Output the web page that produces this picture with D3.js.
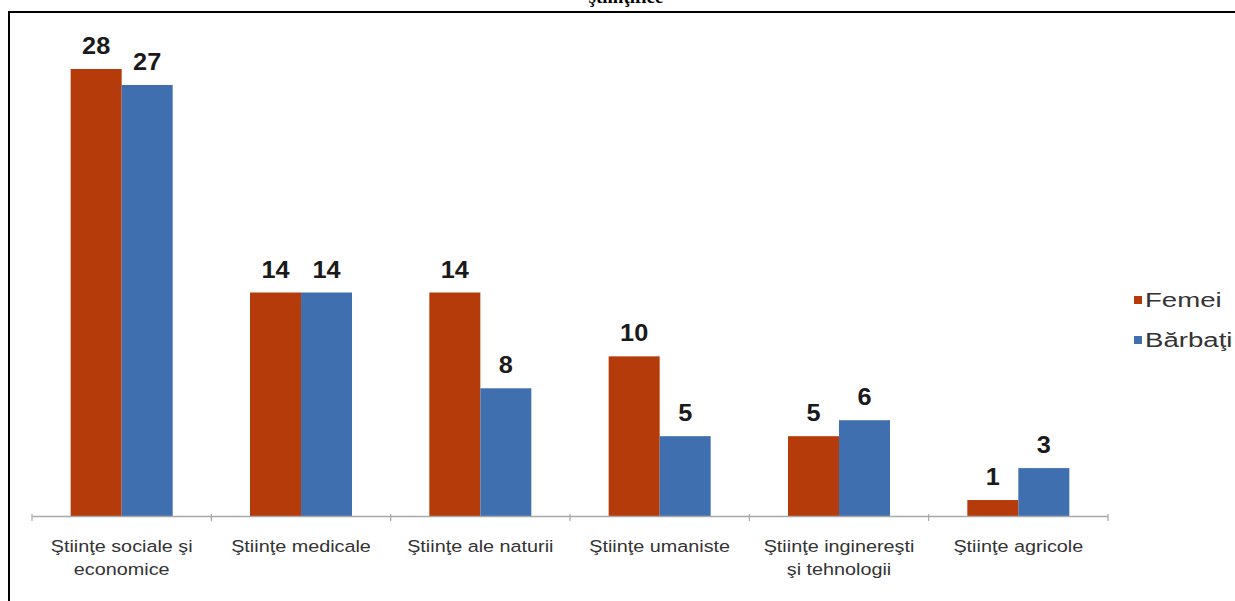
<!DOCTYPE html>
<html>
<head>
<meta charset="utf-8">
<script src="https://cdn.jsdelivr.net/npm/d3@7"></script>
<style>
  html, body { margin: 0; padding: 0; background: #fff; }
  svg { display: block; }
</style>
</head>
<body>
<script>
const categories = [
  ["Ştiinţe sociale şi", "economice"],
  ["Ştiinţe medicale"],
  ["Ştiinţe ale naturii"],
  ["Ştiinţe umaniste"],
  ["Ştiinţe inginereşti", "şi tehnologii"],
  ["Ştiinţe agricole"]
];
const seriesNames = ["Femei", "Bărbaţi"];
const femei = [28, 14, 14, 10, 5, 1];
const barbati = [27, 14, 8, 5, 6, 3];
const colors = ["#B53C0A", "#3F6FAF"];

const W = 1235, H = 601;
const svg = d3.select("body").append("svg").attr("width", W).attr("height", H);

// clipped title fragment above frame
svg.append("text").attr("x", 626).attr("y", 3)
  .attr("text-anchor", "middle")
  .attr("font-family", "Liberation Serif, Times New Roman, serif")
  .attr("font-weight", "bold").attr("font-size", 19)
  .text("ştiinţifice");

// frame
svg.append("line").attr("x1", 8).attr("x2", W).attr("y1", 12).attr("y2", 12)
  .attr("stroke", "#000").attr("stroke-width", 2);
svg.append("line").attr("x1", 9).attr("x2", 9).attr("y1", 12).attr("y2", H)
  .attr("stroke", "#000").attr("stroke-width", 2);

const idx = d3.range(categories.length);
const x = d3.scaleBand().domain(idx).range([32, 1108]).paddingInner(0).paddingOuter(0);
const y = d3.scaleLinear().domain([0, 28]).range([516, 69]);
const barW = 51;
const x1 = d3.scaleBand().domain([0, 1]).range([0, barW * 2]);

const data = [femei, barbati];

const g = svg.append("g");
data.forEach((vals, s) => {
  g.selectAll(".bar" + s).data(vals).enter().append("rect")
    .attr("x", (d, i) => x(i) + x.bandwidth() / 2 - barW + x1(s))
    .attr("y", d => y(d))
    .attr("width", barW)
    .attr("height", d => y(0) - y(d))
    .attr("fill", colors[s]);
  g.selectAll(".lab" + s).data(vals).enter().append("text")
    .attr("transform", (d, i) => `translate(${x(i) + x.bandwidth() / 2 - barW + x1(s) + barW / 2},${y(d) - 15}) scale(1.1,1)`)
    .attr("text-anchor", "middle")
    .attr("font-family", "Liberation Sans, Arial, sans-serif")
    .attr("font-weight", "bold").attr("font-size", 23)
    .attr("fill", "#1a1a1a")
    .text(d => d);
});

// axis
const axis = d3.axisBottom(x).tickSize(0).tickFormat("");
const ax = svg.append("g").attr("transform", "translate(0,516)").call(axis);
ax.select(".domain").attr("stroke", "#a8a8a8").attr("stroke-width", 1.5);
const bounds = idx.map(i => x(i)).concat([x(idx.length - 1) + x.bandwidth()]);
ax.selectAll(".sep").data(bounds).enter().append("line")
  .attr("x1", d => d).attr("x2", d => d).attr("y1", -2).attr("y2", 5)
  .attr("stroke", "#a8a8a8").attr("stroke-width", 1.2);

// category labels
categories.forEach((lines, i) => {
  const cx = x(i) + x.bandwidth() / 2;
  const t = svg.append("text")
    .attr("transform", `translate(${cx},552) scale(1.2,1)`)
    .attr("text-anchor", "middle")
    .attr("font-family", "Liberation Sans, Arial, sans-serif")
    .attr("font-size", 16.5).attr("fill", "#333");
  lines.forEach((l, k) => {
    t.append("tspan").attr("x", 0).attr("y", k * 23).text(l);
  });
});

// legend
seriesNames.forEach((n, s) => {
  const ly = 300 + s * 40;
  svg.append("rect").attr("x", 1134).attr("y", ly - 4).attr("width", 8).attr("height", 8).attr("fill", colors[s]);
  svg.append("text").attr("transform", `translate(1145,${ly + 7}) scale(1.38,1)`)
    .attr("font-family", "Liberation Sans, Arial, sans-serif")
    .attr("font-size", 20).attr("fill", "#333").text(n);
});
</script>
</body>
</html>
